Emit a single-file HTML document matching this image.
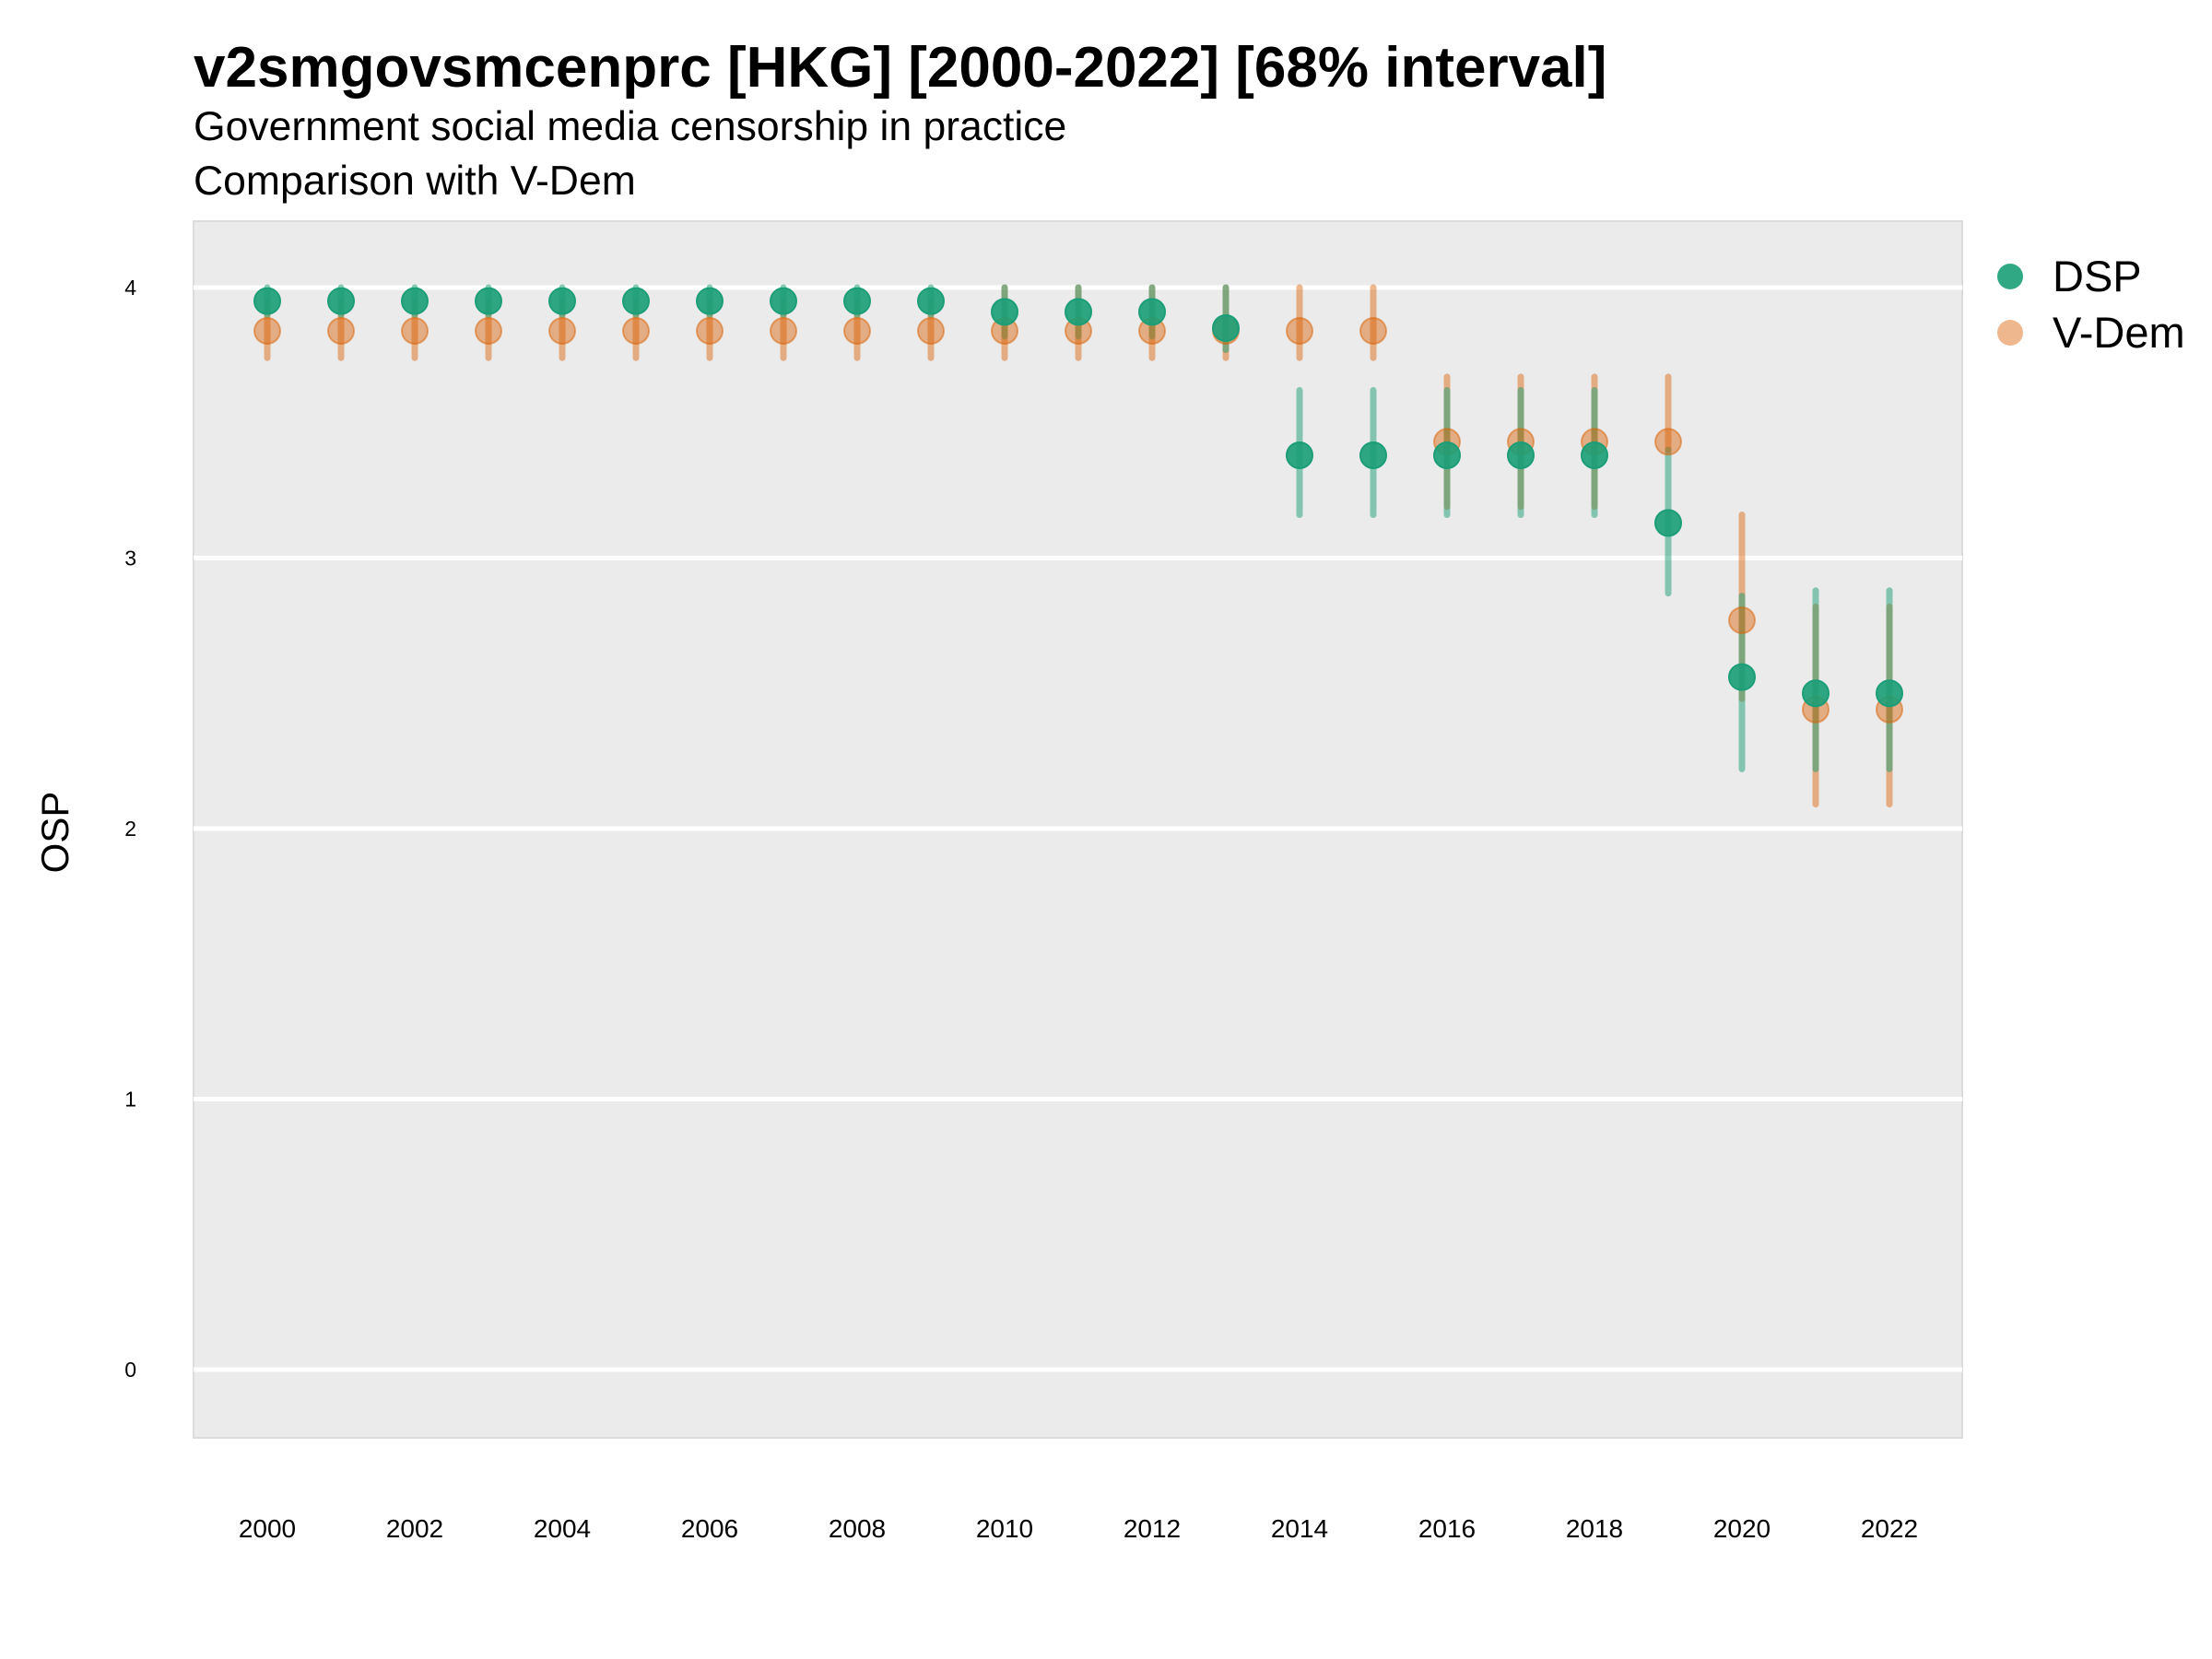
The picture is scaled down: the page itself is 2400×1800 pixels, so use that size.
<!DOCTYPE html>
<html><head><meta charset="utf-8"><style>
body{margin:0;background:#fff;}
svg{display:block;font-family:"Liberation Sans",sans-serif;}
</style></head><body>
<svg id="s" width="2400" height="1800" xmlns="http://www.w3.org/2000/svg">
<rect x="0" y="0" width="2400" height="1800" fill="#fff"/>
<text x="210" y="94" font-size="62" font-weight="bold">v2smgovsmcenprc [HKG] [2000-2022] [68% interval]</text>
<text x="210" y="152" font-size="44.5">Government social media censorship in practice</text>
<text x="210" y="211" font-size="44.5">Comparison with V-Dem</text>
<rect x="210" y="240" width="1919" height="1320" fill="#ebebeb" stroke="#dcdcdc" stroke-width="2"/>
<g id="grid"></g>
<g id="data"></g>
<text transform="translate(74,903) rotate(-90)" font-size="42" text-anchor="middle">OSP</text>
<circle cx="2181" cy="300" r="14" fill="#1b9e77" fill-opacity="0.9"/>
<circle cx="2181" cy="361" r="14" fill="#d95f02" fill-opacity="0.45"/>
<text x="2227" y="316" font-size="47">DSP</text>
<text x="2227" y="377" font-size="47">V-Dem</text>
</svg>
<script>
const NS="http://www.w3.org/2000/svg";
const Y=v=>312+(4-v)*293.5, X=yr=>290+(yr-2000)*80;
function el(p,t,a,txt){const e=document.createElementNS(NS,t);for(const k in a)e.setAttribute(k,a[k]);if(txt!==undefined)e.textContent=txt;document.getElementById(p).appendChild(e);}
for(let v=0;v<=4;v++){el("grid","line",{x1:210,x2:2129,y1:Y(v),y2:Y(v),stroke:"#fff","stroke-width":5});
el("grid","text",{x:148,y:Y(v)+8,"font-size":23,"text-anchor":"end"},v);}
for(let yr=2000;yr<=2022;yr+=2)el("grid","text",{x:X(yr),y:1668,"font-size":28,"text-anchor":"middle"},yr);
const dsp=[],vd=[];
for(let y=2000;y<=2009;y++){dsp.push([y,3.95,4.0,3.9]);}
for(let y=2010;y<=2012;y++)dsp.push([y,3.91,4.0,3.82]);
dsp.push([2013,3.85,4.0,3.77]);
for(let y=2014;y<=2018;y++)dsp.push([y,3.38,3.62,3.16]);
dsp.push([2019,3.13,3.4,2.87]);dsp.push([2020,2.56,2.86,2.22]);
dsp.push([2021,2.5,2.88,2.22]);dsp.push([2022,2.5,2.88,2.22]);
for(let y=2000;y<=2009;y++)vd.push([y,3.84,3.95,3.74]);
for(let y=2010;y<=2015;y++)vd.push([y,3.84,4.0,3.74]);
for(let y=2016;y<=2018;y++)vd.push([y,3.43,3.67,3.19]);
vd.push([2019,3.43,3.67,3.4]);vd.push([2020,2.77,3.16,2.48]);
vd.push([2021,2.44,2.82,2.09]);vd.push([2022,2.44,2.82,2.09]);
for(const [y,m,h,l] of vd)el("data","line",{x1:X(y),x2:X(y),y1:Y(h),y2:Y(l),stroke:"#d95f02","stroke-opacity":0.45,"stroke-width":7,"stroke-linecap":"round"});
for(const [y,m,h,l] of dsp)el("data","line",{x1:X(y),x2:X(y),y1:Y(h),y2:Y(l),stroke:"#1b9e77","stroke-opacity":0.5,"stroke-width":7,"stroke-linecap":"round"});
for(const [y,m] of vd)el("data","circle",{cx:X(y),cy:Y(m),r:14,fill:"#d95f02","fill-opacity":0.45,stroke:"#d95f02","stroke-opacity":0.5,"stroke-width":2});
for(const [y,m] of dsp)el("data","circle",{cx:X(y),cy:Y(m),r:14,fill:"#1b9e77","fill-opacity":0.9,stroke:"#1b9e77","stroke-width":2});
</script>
</body></html>
